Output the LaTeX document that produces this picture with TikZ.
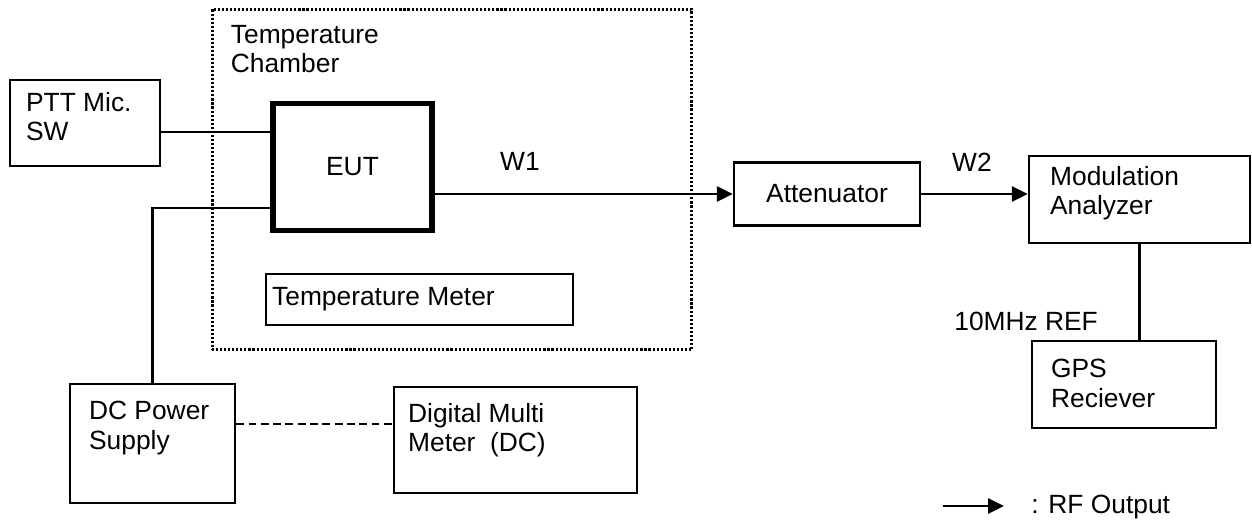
\documentclass[tikz,border=0pt]{standalone}
\usepackage{fontspec}
\setmainfont{Liberation Sans}
\usetikzlibrary{arrows.meta}

\tikzset{
  box/.style={draw, line width=1.4pt, inner sep=0pt},
  inbox/.style={anchor=north west, align=left, inner sep=0pt},
  wire/.style={line width=1.5pt},
  rf/.style={wire, -{Triangle[length=9pt,width=8.5pt]}},
}

\begin{document}
\begin{tikzpicture}[x=0.02cm, y=-0.02cm, font=\fontsize{15}{16.8}\selectfont]
            \useasboundingbox (0,0) rectangle (1252,525);

            % Chamber
            \node[box, line width=1.7pt, dash pattern=on 1.2pt off 1.1pt,
                  minimum width=9.6cm, minimum height=6.82cm] (chamber) at (452,179.5) {};
            \node[inbox] (chambertxt) at ([shift={(20,17)}]chamber.north west) {Temperature\\Chamber};

            % Boxes
            \node[box, minimum width=3cm, minimum height=1.72cm] (ptt) at (85,123) {};
            \node[inbox] (ptttxt) at ([shift={(17,13)}]ptt.north west) {PTT Mic.\\SW};

            \node[box, line width=3pt, minimum width=3.18cm, minimum height=2.54cm] (eut) at (352.5,167) {EUT};

            \node[box, minimum width=6.14cm, minimum height=1.02cm] (tmeter) at (419.5,299.5) {};
            \node[inbox, anchor=west] (tmetertxt) at ([shift={(7,0)}]tmeter.west) {Temperature Meter};

            \node[box, minimum width=3.3cm, minimum height=2.38cm] (dcps) at (152.5,443.5) {};
            \node[inbox] (dcpstxt) at ([shift={(20,18)}]dcps.north west) {DC Power\\Supply};

            \node[box, minimum width=4.86cm, minimum height=2.12cm] (dmm) at (515.5,440) {};
            \node[inbox] (dmmtxt) at ([shift={(15,17)}]dmm.north west) {Digital Multi\\Meter\ \ (DC)};

            \node[box, minimum width=3.72cm, minimum height=1.26cm] (att) at (827,194) {Attenuator};

            \node[box, minimum width=4.42cm, minimum height=1.74cm] (mod) at (1139.5,199.5) {};
            \node[inbox] (modtxt) at ([shift={(22,11)}]mod.north west) {Modulation\\Analyzer};

            \node[box, minimum width=3.68cm, minimum height=1.74cm] (gps) at (1124,384.5) {};
            \node[inbox] (gpstxt) at ([shift={(20,19)}]gps.north west) {GPS\\Reciever};

            % Wires
            \draw[wire] (ptt.east |- 0,132) -- (eut.west |- 0,132);
            \draw[wire] (dcps.north) |- (eut.west |- 0,208);
            \draw[wire, dash pattern=on 4.5pt off 2.5pt] (dcps.east |- 0,424) -- (dmm.west |- 0,424);
            \draw[wire] (mod.south) -- (mod.south |- gps.north);

            % RF path
            \draw[rf] (eut.east |- att.west) -- (att.west);
            \draw[rf] (att.east) -- (mod.west |- att.east);

            % Labels
            \node (w1) at (520,161) {W1};
            \node (w2) at (972,162.5) {W2};
            \node[anchor=base west, inner sep=0pt] (ref) at (954,330) {10MHz REF};

            % Legend
            \coordinate (legA) at (943,506);
            \coordinate (legB) at (1004,506);
            \draw[rf] (legA) -- (legB);
            \node[anchor=base west, inner sep=0pt] (legtxt) at (1031,513) {: RF Output};
\end{tikzpicture}
\end{document}
